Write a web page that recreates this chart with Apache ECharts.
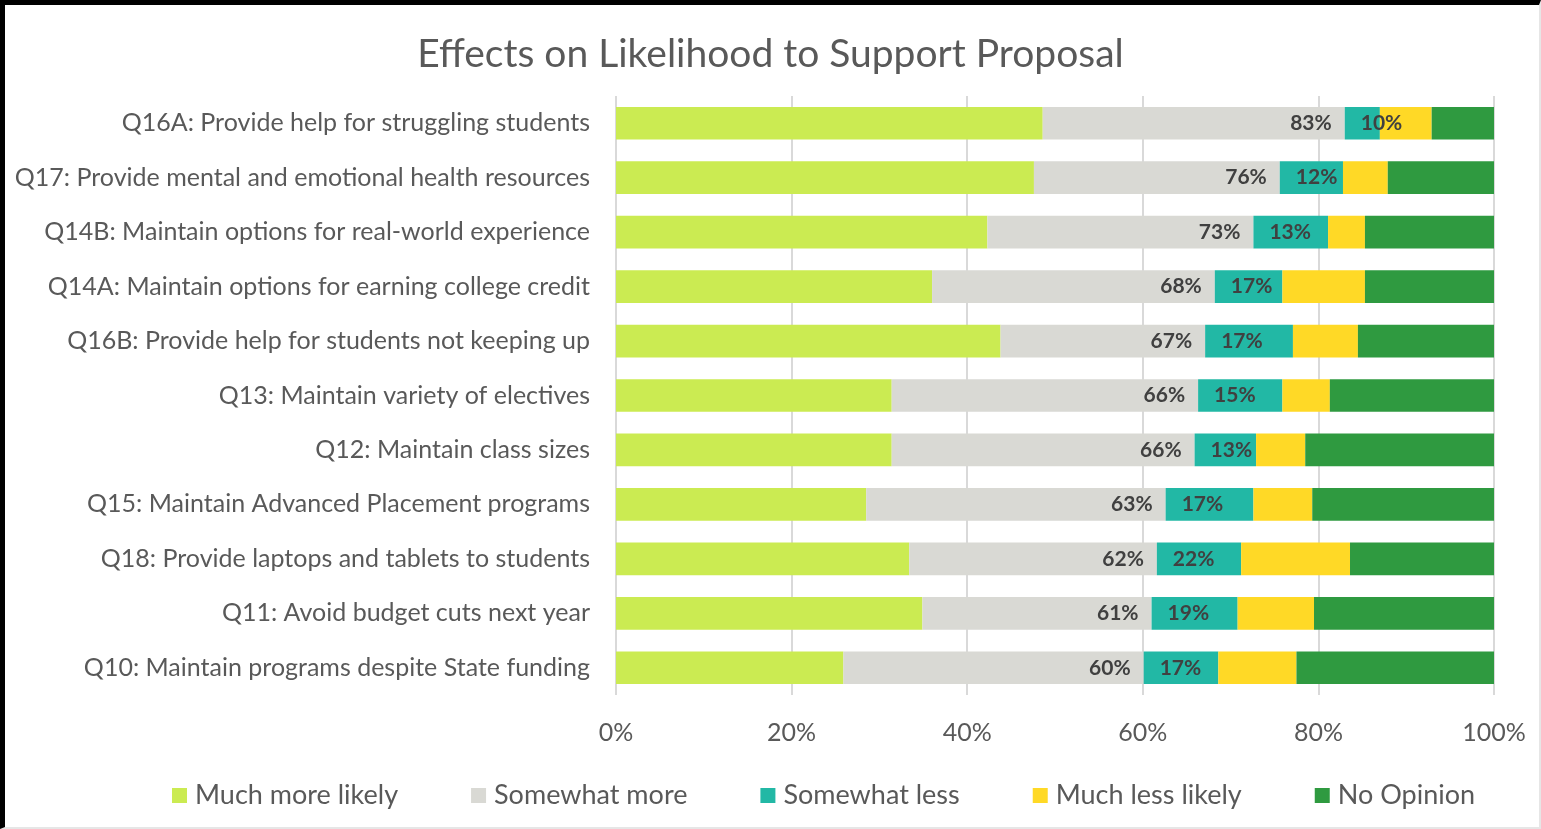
<!DOCTYPE html>
<html>
<head>
<meta charset="utf-8">
<script src="https://cdn.jsdelivr.net/npm/echarts@6/dist/echarts.min.js"></script>
<style>
  html, body { margin: 0; padding: 0; background: #fff; }
  #chart { position: absolute; left: 0; top: 0; width: 1541px; height: 829px; }
  #frame { position: absolute; left: 0; top: 0; width: 1541px; height: 829px; box-sizing: border-box;
           border-top: 5px solid #000; border-left: 5px solid #000;
           border-right: 2px solid #e6e6e6; border-bottom: 2px solid #e6e6e6; pointer-events: none; }
</style>
</head>
<body>
<div id="chart"></div>
<div id="frame"></div>
<script>
const categories = [
  "Q16A: Provide help for struggling students",
  "Q17: Provide mental and emotional health resources",
  "Q14B: Maintain options for real-world experience",
  "Q14A: Maintain options for earning college credit",
  "Q16B: Provide help for students not keeping up",
  "Q13: Maintain variety of electives",
  "Q12: Maintain class sizes",
  "Q15: Maintain Advanced Placement programs",
  "Q18: Provide laptops and tablets to students",
  "Q11: Avoid budget cuts next year",
  "Q10: Maintain programs despite State funding"
];
const seriesNames = ["Much more likely", "Somewhat more", "Somewhat less", "Much less likely", "No Opinion"];
const muchMore     = [48.6, 47.6, 42.3, 36.0, 43.8, 31.4, 31.4, 28.5, 33.4, 34.9, 25.9];
const somewhatMore = [34.4, 28.0, 30.3, 32.2, 23.3, 34.9, 34.5, 34.1, 28.2, 26.1, 34.2];
const somewhatLess = [4.0, 7.2, 8.5, 7.7, 10.0, 9.6, 7.0, 10.0, 9.6, 9.8, 8.5];
const muchLess     = [5.9, 5.1, 4.2, 9.4, 7.4, 5.4, 5.6, 6.7, 12.4, 8.7, 8.9];
const noOpinion    = [7.1, 12.1, 14.7, 14.7, 15.5, 18.7, 21.5, 20.7, 16.4, 20.5, 22.5];
const moreTotalLabels = ["83%", "76%", "73%", "68%", "67%", "66%", "66%", "63%", "62%", "61%", "60%"];
const lessTotalLabels = ["10%", "12%", "13%", "17%", "17%", "15%", "13%", "17%", "22%", "19%", "17%"];
const xTicks = [0, 20, 40, 60, 80, 100];

const colors = ["#cbeb52", "#d9d9d4", "#22b8a5", "#ffd926", "#2f9a40"];
const FONT = "Lato";
const labelStyle = { color: "#404040", fontWeight: "bold", fontSize: 21, fontFamily: FONT };

const chart = echarts.init(document.getElementById("chart"), null, { renderer: "canvas" });
const seriesData = [muchMore, somewhatMore, somewhatLess, muchLess, noOpinion];
const series = seriesNames.map((name, i) => {
  const s = {
    name: name,
    type: "bar",
    stack: "total",
    barCategoryGap: "40%",
    itemStyle: { color: colors[i] },
    emphasis: { disabled: true },
    data: seriesData[i]
  };
  if (i === 1) {
    s.label = Object.assign({ show: true, position: "insideRight", distance: 13,
      formatter: p => moreTotalLabels[p.dataIndex] }, labelStyle);
  }
  if (i === 2) {
    s.label = Object.assign({ show: true, position: "insideLeft", distance: 16,
      formatter: p => lessTotalLabels[p.dataIndex] }, labelStyle);
  }
  return s;
});

chart.setOption({
  animation: false,
  title: {
    text: "Effects on Likelihood to Support Proposal",
    left: "center",
    top: 30,
    textStyle: { color: "#595959", fontSize: 39, fontWeight: "normal", fontFamily: FONT }
  },
  legend: {
    data: seriesNames,
    left: 167,
    top: 777,
    icon: "rect",
    itemWidth: 15,
    itemHeight: 15,
    itemGap: 73,
    textStyle: { color: "#595959", fontSize: 27, fontFamily: FONT, padding: [0, 0, 0, 3] }
  },
  grid: { left: 616, right: 47, top: 96, bottom: 134, containLabel: false },
  xAxis: {
    type: "value",
    min: 0,
    max: 100,
    interval: 20,
    axisLine: { show: false },
    axisTick: { show: false },
    splitLine: { show: true, lineStyle: { color: "#d9d9d9", width: 2 } },
    axisLabel: {
      color: "#595959", fontSize: 25, fontFamily: FONT, margin: 25,
      formatter: v => xTicks.indexOf(v) >= 0 ? v + "%" : ""
    }
  },
  yAxis: {
    type: "category",
    data: categories,
    inverse: true,
    axisLine: { show: false },
    axisTick: { show: false },
    axisLabel: { color: "#595959", fontSize: 25, fontFamily: FONT, margin: 26 }
  },
  series: series
});
</script>
</body>
</html>
